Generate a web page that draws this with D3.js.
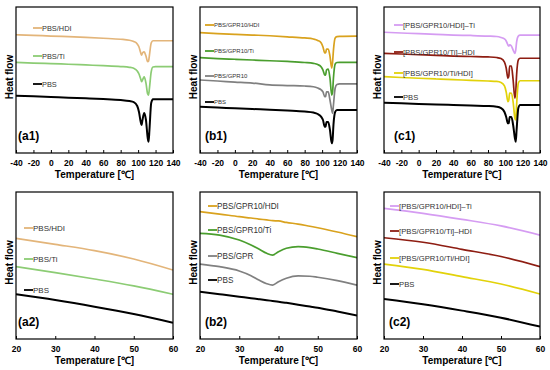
<!DOCTYPE html>
<html>
<head>
<meta charset="utf-8">
<script src="https://cdn.jsdelivr.net/npm/d3@7"></script>
<style>
  body { margin: 0; background: #fff; }
  svg { display: block; font-family: Arial, "Liberation Sans", sans-serif; }
</style>
</head>
<body>
<svg id="chart" width="550" height="370"></svg>
<script>
// ---- data (heat flow in arbitrary units, endo down) ----
const topTemps = [-40, -20, 0, 20, 40, 60, 80, 90, 95, 99, 101, 103, 104, 105, 107, 109, 111, 112, 113, 115, 117, 120, 140];
const topTicks = [-40, -20, 0, 20, 40, 60, 80, 100, 120, 140];

const a1HDI = [81.0, 80.6, 80.1, 79.7, 79.2, 78.6, 77.9, 77.2, 76.4, 74.7, 72.6, 68.5, 67.1, 68.5, 69.2, 66.4, 62.5, 63.0, 67.1, 75.3, 76.9, 76.9, 76.9];
const a1Ti  = [62.1, 61.6, 61.2, 60.8, 60.3, 59.8, 59.2, 58.7, 58.0, 56.2, 54.1, 50.7, 48.8, 50.0, 52.1, 47.9, 40.4, 39.7, 44.5, 55.5, 58.9, 59.1, 59.1];
const a1PBS = [39.2, 38.8, 38.4, 37.9, 37.5, 37.0, 36.3, 35.6, 34.9, 32.2, 28.1, 21.2, 19.2, 22.6, 27.4, 22.6, 10.3, 7.7, 15.8, 34.2, 36.8, 36.8, 36.8];

const b1HDI = [82.4, 81.8, 81.3, 80.8, 80.3, 79.6, 78.8, 78.1, 77.1, 75.3, 72.6, 68.5, 68.5, 71.2, 71.2, 66.4, 58.2, 62.3, 70.5, 78.8, 79.7, 79.9, 80.1];
const b1Ti  = [65.3, 64.7, 64.2, 63.7, 63.2, 62.7, 62.0, 61.4, 60.6, 58.9, 56.8, 53.4, 53.4, 56.8, 57.5, 51.4, 39.7, 41.8, 51.4, 61.0, 62.0, 62.1, 62.1];
const b1GPR = [50.0, 49.3, 48.6, 47.9, 46.6, 46.2, 45.9, 45.4, 44.5, 43.2, 41.8, 38.6, 38.6, 41.8, 41.8, 36.3, 29.5, 27.2, 32.9, 44.5, 46.9, 47.3, 47.3];
const b1PBS = [31.7, 31.2, 30.6, 30.1, 29.7, 29.1, 28.4, 27.7, 26.7, 24.7, 22.6, 18.0, 18.0, 21.2, 21.2, 15.8, 6.6, 8.9, 19.2, 28.1, 29.5, 29.5, 29.5];

const c1HdiTi    = [82.7, 82.2, 81.7, 81.3, 80.8, 80.5, 80.1, 79.8, 79.1, 78.1, 76.7, 74.0, 73.3, 74.0, 73.3, 70.5, 68.3, 70.5, 76.0, 80.1, 80.8, 80.8, 80.8];
const c1TiHdi    = [68.3, 67.8, 67.3, 66.9, 66.4, 66.1, 65.8, 65.4, 64.7, 62.3, 58.2, 51.2, 52.7, 59.6, 59.6, 50.0, 37.5, 41.8, 53.4, 63.7, 64.9, 64.9, 64.9];
const c1TiHdiMix = [52.3, 51.7, 51.2, 50.7, 50.2, 49.8, 49.3, 49.0, 48.3, 45.9, 41.8, 35.1, 36.3, 41.1, 40.9, 34.9, 24.0, 22.6, 32.9, 47.9, 49.5, 49.5, 49.5];
const c1PBS      = [34.5, 34.0, 33.6, 33.2, 32.9, 32.5, 32.2, 31.7, 30.8, 28.1, 24.7, 20.3, 20.5, 24.7, 24.7, 19.2, 10.3, 7.7, 15.8, 30.8, 32.9, 32.9, 32.9];

const bottomTicks = [20, 30, 40, 50, 60];

const a2Temps = [20, 30, 40, 50, 60];
const a2HDI = [68.5, 64.4, 60.1, 54.4, 46.9];
const a2Ti  = [49.2, 45.1, 40.8, 36.1, 30.4];
const a2PBS = [30.4, 26.5, 22.0, 17.0, 11.1];

const b2Temps = [20, 25, 30, 33, 35, 37, 38.5, 40, 42, 45, 48, 50, 55, 60];
const b2HDI = [86.6, 85.0, 83.2, 82.3, 81.6, 81.0, 80.5, 80.3, 79.3, 78.2, 76.7, 75.7, 72.8, 69.6];
const b2Ti  = [71.9, 70.7, 67.3, 63.9, 61.2, 58.3, 57.1, 59.4, 61.7, 62.8, 62.1, 61.2, 58.3, 55.3];
const b2GPR = [51.0, 49.2, 46.3, 43.1, 40.1, 37.6, 36.7, 39.0, 41.3, 42.9, 42.7, 42.0, 39.7, 36.7];
const b2PBS = [32.2, 30.5, 28.8, 27.8, 27.1, 26.4, 25.9, 25.4, 24.6, 23.3, 22.1, 21.3, 18.7, 15.9];

const c2Temps = [20, 30, 40, 50, 60];
const c2HdiTi    = [88.9, 85.5, 81.4, 76.9, 70.7];
const c2TiHdi    = [68.9, 65.8, 61.0, 56.1, 49.2];
const c2TiHdiMix = [51.0, 47.4, 42.4, 37.4, 30.6];
const c2PBS      = [27.2, 23.6, 19.3, 14.5, 8.4];

// ---- colours ----
const cBlack = '#000000';
const cTan = '#e3b57a', cLightGreen = '#8ccc74';
const cGold = '#d9a21e', cGreen = '#4a9e2e', cGray = '#808080';
const cLavender = '#d59cf2', cBrown = '#8e1d12', cYellow = '#e2d20a';

// ---- panels (layout) ----
const cols = [[16, 173], [200, 357], [384, 540]];
const rows = [[7, 153], [192, 339]];

const panels = [
  { col: 0, row: 0, temps: topTemps, domain: [-40, 140], ticks: topTicks, label: '(a1)', labelX: 18, legendX: 33, fs: 7.4,
    series: [
      { name: 'PBS/HDI', color: cTan, values: a1HDI, ly: 28 },
      { name: 'PBS/Ti', color: cLightGreen, values: a1Ti, ly: 56 },
      { name: 'PBS', color: cBlack, values: a1PBS, ly: 84 }
    ] },
  { col: 1, row: 0, temps: topTemps, domain: [-40, 140], ticks: topTicks, label: '(b1)', labelX: 205, legendX: 205, fs: 6,
    series: [
      { name: 'PBS/GPR10/HDI', color: cGold, values: b1HDI, ly: 25 },
      { name: 'PBS/GPR10/Ti', color: cGreen, values: b1Ti, ly: 51 },
      { name: 'PBS/GPR10', color: cGray, values: b1GPR, ly: 76 },
      { name: 'PBS', color: cBlack, values: b1PBS, ly: 102 }
    ] },
  { col: 2, row: 0, temps: topTemps, domain: [-40, 140], ticks: topTicks, label: '(c1)', labelX: 394, legendX: 394, fs: 7.6,
    series: [
      { name: '[PBS/GPR10/HDI]–Ti', color: cLavender, values: c1HdiTi, ly: 25 },
      { name: '[PBS/GPR10/Ti]–HDI', color: cBrown, values: c1TiHdi, ly: 52 },
      { name: '[PBS/GPR10/Ti/HDI]', color: cYellow, values: c1TiHdiMix, ly: 73 },
      { name: 'PBS', color: cBlack, values: c1PBS, ly: 97 }
    ] },
  { col: 0, row: 1, temps: a2Temps, domain: [20, 60], ticks: bottomTicks, label: '(a2)', labelX: 18, legendX: 24, fs: 8,
    series: [
      { name: 'PBS/HDI', color: cTan, values: a2HDI, ly: 228 },
      { name: 'PBS/Ti', color: cLightGreen, values: a2Ti, ly: 259 },
      { name: 'PBS', color: cBlack, values: a2PBS, ly: 290 }
    ] },
  { col: 1, row: 1, temps: b2Temps, domain: [20, 60], ticks: bottomTicks, label: '(b2)', labelX: 205, legendX: 208, fs: 8.2,
    series: [
      { name: 'PBS/GPR10/HDI', color: cGold, values: b2HDI, ly: 206 },
      { name: 'PBS/GPR10/Ti', color: cGreen, values: b2Ti, ly: 230 },
      { name: 'PBS/GPR', color: cGray, values: b2GPR, ly: 256 },
      { name: 'PBS', color: cBlack, values: b2PBS, ly: 280 }
    ] },
  { col: 2, row: 1, temps: c2Temps, domain: [20, 60], ticks: bottomTicks, label: '(c2)', labelX: 389, legendX: 390, fs: 7.7,
    series: [
      { name: '[PBS/GPR10/HDI]–Ti', color: cLavender, values: c2HdiTi, ly: 206 },
      { name: '[PBS/GPR10/Ti]–HDI', color: cBrown, values: c2TiHdi, ly: 231 },
      { name: '[PBS/GPR10/Ti/HDI]', color: cYellow, values: c2TiHdiMix, ly: 258 },
      { name: 'PBS', color: cBlack, values: c2PBS, ly: 284 }
    ] }
];

const svg = d3.select('#chart');

panels.forEach((p, i) => {
  const [x0, x1] = cols[p.col];
  const [y0, y1] = rows[p.row];

  const x = d3.scaleLinear().domain(p.domain).range([x0, x1]);
  const y = d3.scaleLinear().domain([0, 100]).range([y1, y0]);

  const g = svg.append('g');

  // clip to the frame
  g.append('clipPath').attr('id', 'clip' + i)
    .append('rect').attr('x', x0).attr('y', y0).attr('width', x1 - x0).attr('height', y1 - y0);

  // curves
  const line = d3.line()
    .x(d => x(d[0]))
    .y(d => y(d[1]))
    .curve(d3.curveMonotoneX);

  g.append('g').attr('clip-path', `url(#clip${i})`)
    .selectAll('path')
    .data(p.series)
    .enter().append('path')
    .attr('d', s => line(p.temps.map((t, k) => [t, s.values[k]])))
    .attr('fill', 'none')
    .attr('stroke', s => s.color)
    .attr('stroke-width', s => s.color === cBlack ? 2 : 1.7)
    .attr('stroke-linejoin', 'round');

  // legend entries
  const leg = g.append('g').selectAll('g')
    .data(p.series)
    .enter().append('g');
  leg.append('line')
    .attr('x1', p.legendX).attr('x2', p.legendX + 9)
    .attr('y1', s => s.ly).attr('y2', s => s.ly)
    .attr('stroke', s => s.color)
    .attr('stroke-width', 1.8);
  leg.append('text')
    .attr('x', p.legendX + 9)
    .attr('y', s => s.ly)
    .attr('dy', '0.35em')
    .attr('font-size', p.fs)
    .attr('fill', '#333')
    .text(s => s.name);

  // bottom axis, ticks pointing inward
  const axis = d3.axisBottom(x).tickValues(p.ticks).tickFormat(d => String(d))
    .tickSizeInner(-3).tickSizeOuter(0).tickPadding(7);
  const ax = g.append('g').attr('transform', `translate(0,${y1})`).call(axis);
  ax.select('.domain').remove();
  ax.selectAll('.tick line').attr('stroke', '#000');
  ax.selectAll('.tick text')
    .attr('font-size', 8.5)
    .attr('font-weight', 'bold')
    .attr('font-family', 'Arial, "Liberation Sans", sans-serif')
    .attr('fill', '#000');

  // frame
  g.append('rect')
    .attr('x', x0).attr('y', y0)
    .attr('width', x1 - x0).attr('height', y1 - y0)
    .attr('fill', 'none')
    .attr('stroke', '#000')
    .attr('stroke-width', 1.2);

  // axis titles
  g.append('text')
    .attr('x', (x0 + x1) / 2)
    .attr('y', y1 + 21)
    .attr('dy', '0.35em')
    .attr('text-anchor', 'middle')
    .attr('font-size', 10)
    .attr('font-weight', 'bold')
    .text('Temperature [℃]');

  g.append('text')
    .attr('transform', `translate(${x0 - 7},${(y0 + y1) / 2 - 3}) rotate(-90)`)
    .attr('text-anchor', 'middle')
    .attr('dy', '0.35em')
    .attr('font-size', 10)
    .attr('font-weight', 'bold')
    .text('Heat flow');

  // panel tag
  g.append('text')
    .attr('x', p.labelX)
    .attr('y', y1 - 17)
    .attr('dy', '0.35em')
    .attr('font-size', 12)
    .attr('font-weight', 'bold')
    .text(p.label);
});
</script>
</body>
</html>
